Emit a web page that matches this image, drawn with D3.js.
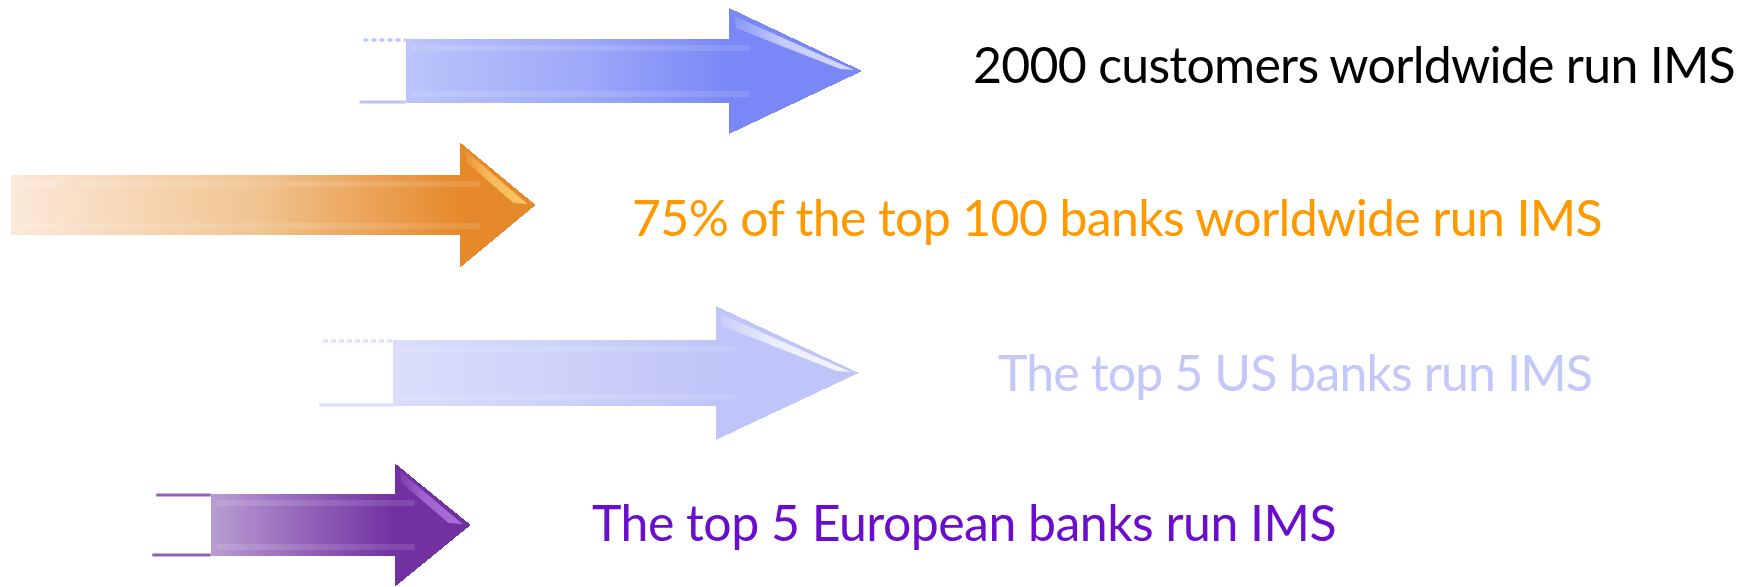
<!DOCTYPE html>
<html>
<head>
<meta charset="utf-8">
<script src="https://cdn.jsdelivr.net/npm/d3@7"></script>
<style>
  html, body { margin: 0; padding: 0; background: #fff; }
  svg { display: block; }
</style>
</head>
<body>
<div id="chart"></div>
<script>
// statements, one per arrow row
var labels = [
	"2000 customers worldwide run IMS",
	"75% of the top 100 banks worldwide run IMS",
	"The top 5 US banks run IMS",
	"The top 5 European banks run IMS"
];
// arrow extent, in % of the page width
var arrowFrom = [23.1, 0.6, 22.4, 12.0];
var arrowTo   = [49.1, 30.5, 48.9, 26.8];
// thin guide lines left of the shaft (null = none)
var stubFrom  = [20.7, null, 18.4, 8.9];

// colours: shaft light end, shaft mid, head, highlight, text
var lightCol = ["#bcc4fa", "#fce9da", "#dadefb", "#b99dd2"];
var midCol   = ["#9ea9f8", "#f1c490", "#ccd1f9", "#9160b9"];
var headCol  = ["#7a88f7", "#e6892b", "#bfc5f8", "#7131a1"];
var hiCol    = ["#e4e8ff", "#ffd070", "#ffffff", "#b57ae6"];
var textCol  = ["#000000", "#ff9900", "#c3c8fb", "#6a0dcc"];

var W = 1756, H = 587;

// layout, per row
var rowY     = [71, 205, 373, 525],
	shaftH   = [64, 60, 66, 62],
	headHalf = [63, 63, 67, 62],
	headLen  = [133, 76, 143, 76],
	textX    = [973, 632, 998, 592],
	textBase = [83, 236, 391, 541],
	textW    = [762, 970, 594, 744];

var x = d3.scaleLinear().domain([0, 100]).range([0, W]);
var y = d3.scaleOrdinal().domain(labels).range(rowY);

var rows = labels.map(function(d, i){
	return {label: d, i: i, from: arrowFrom[i], to: arrowTo[i], stub: stubFrom[i]};
});

var svg = d3.select("#chart")
	.append("svg")
	.attr("width", W)
	.attr("height", H);

var defs = svg.append("defs");

// shaft gradients
rows.forEach(function(d){
	var g = defs.append("linearGradient")
		.attr("id", "shaft" + d.i)
		.attr("gradientUnits", "userSpaceOnUse")
		.attr("x1", x(d.from)).attr("x2", x(d.to) - headLen[d.i])
		.attr("y1", 0).attr("y2", 0);
	g.append("stop").attr("offset", "0%").attr("stop-color", lightCol[d.i]);
	g.append("stop").attr("offset", "55%").attr("stop-color", midCol[d.i]);
	g.append("stop").attr("offset", "100%").attr("stop-color", headCol[d.i]);

	var h = defs.append("linearGradient")
		.attr("id", "hi" + d.i)
		.attr("x1", "0%").attr("x2", "100%")
		.attr("y1", "0%").attr("y2", "0%");
	h.append("stop").attr("offset", "0%").attr("stop-color", hiCol[d.i]).attr("stop-opacity", 0.15);
	h.append("stop").attr("offset", "40%").attr("stop-color", hiCol[d.i]).attr("stop-opacity", 0.7);
	h.append("stop").attr("offset", "100%").attr("stop-color", hiCol[d.i]).attr("stop-opacity", 0.85);
});

function arrowPath(d){
	var i = d.i,
		cy = y(d.label),
		t = cy - shaftH[i]/2, b = cy + shaftH[i]/2,
		x0 = x(d.from), x2 = x(d.to), x1 = x2 - headLen[i];
	return "M" + x0 + "," + t + "L" + x1 + "," + t + "L" + x1 + "," + (cy - headHalf[i]) +
		"L" + x2 + "," + cy + "L" + x1 + "," + (cy + headHalf[i]) + "L" + x1 + "," + b +
		"L" + x0 + "," + b + "Z";
}

var arrows = svg.selectAll("g.arrow")
	.data(rows)
	.enter()
	.append("g")
	.attr("class", "arrow");

// thin guide lines
arrows.filter(function(d){ return d.stub !== null; })
	.each(function(d){
		var g = d3.select(this), i = d.i, cy = y(d.label);
		g.append("line")
			.attr("x1", x(d.stub)).attr("x2", x(d.from))
			.attr("y1", cy - shaftH[i]/2 + 1).attr("y2", cy - shaftH[i]/2 + 1)
			.attr("stroke", i === 3 ? midCol[i] : lightCol[i])
			.attr("stroke-width", 3)
			.attr("stroke-dasharray", i === 3 ? null : "5,3");
		g.append("line")
			.attr("x1", x(d.stub) - 4).attr("x2", x(d.from))
			.attr("y1", cy + shaftH[i]/2 - 1).attr("y2", cy + shaftH[i]/2 - 1)
			.attr("stroke", i === 3 ? midCol[i] : lightCol[i])
			.attr("stroke-width", 3);
	});

// arrow body
arrows.append("path")
	.attr("d", arrowPath)
	.attr("fill", function(d){ return "url(#shaft" + d.i + ")"; })
	.attr("shape-rendering", "crispEdges");

// head fill
arrows.append("path")
	.attr("d", function(d){
		var i = d.i, cy = y(d.label), x2 = x(d.to), x1 = x2 - headLen[i];
		return "M" + x1 + "," + (cy - headHalf[i]) + "L" + x2 + "," + cy + "L" + x1 + "," + (cy + headHalf[i]) + "Z";
	})
	.attr("fill", function(d){ return headCol[d.i]; })
	.attr("shape-rendering", "crispEdges");

// soft bevel lines along the shaft
arrows.append("path")
	.attr("d", function(d){
		var i = d.i, cy = y(d.label), x0 = x(d.from) + 6, x1 = x(d.to) - headLen[i],
			t = cy - shaftH[i]/2 + 9, b = cy + shaftH[i]/2 - 9;
		return "M" + x0 + "," + t + "L" + (x1 + 20) + "," + t + "M" + x0 + "," + b + "L" + (x1 + 20) + "," + b;
	})
	.attr("stroke", "#ffffff")
	.attr("stroke-opacity", 0.12)
	.attr("stroke-width", 6)
	.attr("fill", "none");

// glossy streak on the upper edge of the head
arrows.append("path")
	.attr("d", function(d){
		var i = d.i, cy = y(d.label), x2 = x(d.to), x1 = x2 - headLen[i],
			top = cy - headHalf[i];
		var ax = x1 + 5, ay = top + 8, bx = x2 - 8, by = cy - 1;
		return "M" + ax + "," + ay + "L" + bx + "," + by +
			"L" + (bx - 14) + "," + (by - 1) + "L" + (ax + 2) + "," + (ay + 12) + "Z";
	})
	.attr("fill", function(d){ return "url(#hi" + d.i + ")"; });

// statements; squeeze the letter spacing so each line spans its width
var texts = svg.append("g")
	.selectAll("text")
	.data(rows)
	.enter()
	.append("text")
	.text(function(d){ return d.label; })
	.attr("x", function(d){ return textX[d.i]; })
	.attr("y", function(d){ return textBase[d.i]; })
	.attr("font-family", "Lato, 'Open Sans', sans-serif")
	.attr("font-size", "50px")
	.attr("fill", function(d){ return textCol[d.i]; });

texts.each(function(d){
	var natural = this.getComputedTextLength(),
		n = d.label.length;
	var ls = (textW[d.i] - natural) / n;
	d3.select(this).style("letter-spacing", ls + "px");
});
</script>
</body>
</html>
